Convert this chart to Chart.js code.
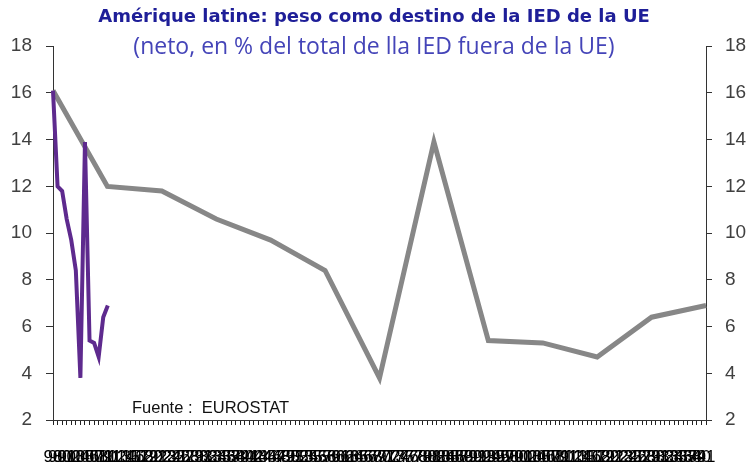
<!DOCTYPE html>
<html>
<head>
<meta charset="utf-8">
<script src="https://cdn.jsdelivr.net/npm/chart.js@4"></script>
<style>
  html, body { margin: 0; padding: 0; background: #fff; }
  #wrap { width: 748px; height: 466px; }
</style>
</head>
<body>
<div id="wrap"><canvas id="iedChart"></canvas></div>
<script>
// peso de America latina en la IED de la UE (% del total extra-UE)
const anios = ['1998', '1999', '2000', '2001', '2002', '2003', '2004', '2005', '2006', '2007', '2008', '2009', '2010'];
const pesoIED = [16.1, 12.0, 11.8, 10.6, 9.7, 8.4, 3.8, 13.9, 5.4, 5.3, 4.7, 6.4, 6.9];

// the primary category axis has far more columns than data (144), labels overlap
const nColumnas = 144;
const etiquetasX = Array.from({ length: nColumnas }, (_, i) => String((98 + i) % 100).padStart(2, '0'));

const yTicks = [2, 4, 6, 8, 10, 12, 14, 16, 18];

const axisFont = { family: '"Liberation Sans", Arial, sans-serif', size: 19 };

const fuentePlugin = {
    id: 'fuente',
    afterDraw(chart) {
        const ctx = chart.ctx;
        ctx.save();
        ctx.font = '16.5px "Liberation Sans", Arial, sans-serif';
        ctx.fillStyle = '#111';
        ctx.textBaseline = 'alphabetic';
        ctx.fillText('Fuente :  EUROSTAT', 132, 413);
        ctx.restore();
    }
};

new Chart(document.getElementById('iedChart'), {
    type: 'line',
    data: {
        labels: etiquetasX,
        datasets: [{
                label: 'Amérique latine',
                data: pesoIED,
                xAxisID: 'x',
                yAxisID: 'y',
                borderColor: '#5E2A8E',
                borderWidth: 4,
                pointRadius: 0,
                tension: 0,
                order: 0,
            },
            {
                label: 'Amérique latine (eje sec.)',
                data: pesoIED,
                xAxisID: 'x2',
                yAxisID: 'y2',
                borderColor: '#878787',
                borderWidth: 5,
                pointRadius: 0,
                tension: 0,
                order: 1,
            },
        ],
    },
    plugins: [fuentePlugin],
    options: {
        responsive: true,
        maintainAspectRatio: false,
        animation: false,
        layout: { padding: 0 },
        plugins: {
            legend: { display: false },
            tooltip: { enabled: false },
            title: {
                display: true,
                text: 'Amérique latine: peso como destino de la IED de la UE',
                color: '#1E1E98',
                font: { family: '"DejaVu Sans", sans-serif', size: 18, weight: 'bold' },
                padding: { top: 7, bottom: 2 },
            },
            subtitle: {
                display: true,
                text: '(neto, en % del total de lla IED fuera de la UE)',
                color: '#4444B8',
                font: { family: '"Open Sans", sans-serif', size: 23 },
                padding: { top: 3, bottom: -15 },
            },
        },
        scales: {
            x: {
                type: 'category',
                position: 'bottom',
                offset: false,
                grid: { drawOnChartArea: false, tickLength: 5, color: '#222' },
                border: { color: '#333' },
                ticks: {
                    autoSkip: false,
                    maxRotation: 0,
                    minRotation: 0,
                    padding: 22,
                    color: '#000',
                    font: { family: '"Liberation Sans", Arial, sans-serif', size: 17 },
                },
                afterFit(scale) { scale.height = 46; },
            },
            x2: {
                type: 'category',
                labels: anios,
                offset: false,
                display: false,
            },
            y: {
                position: 'left',
                min: 2,
                max: 18,
                afterBuildTicks(scale) { scale.ticks = yTicks.map(v => ({ value: v })); },
                grid: { drawOnChartArea: false, tickLength: 7, color: '#333' },
                border: { color: '#333' },
                ticks: { padding: 14, color: '#404040', font: axisFont },
                afterFit(scale) { scale.width = 53; },
            },
            y2: {
                position: 'right',
                min: 2,
                max: 18,
                afterBuildTicks(scale) { scale.ticks = yTicks.map(v => ({ value: v })); },
                grid: { drawOnChartArea: false, tickLength: 6, color: '#333' },
                border: { color: '#333' },
                ticks: { padding: 13, color: '#404040', font: axisFont },
                afterFit(scale) { scale.width = 42; },
            },
        },
    },
});
</script>
</body>
</html>
